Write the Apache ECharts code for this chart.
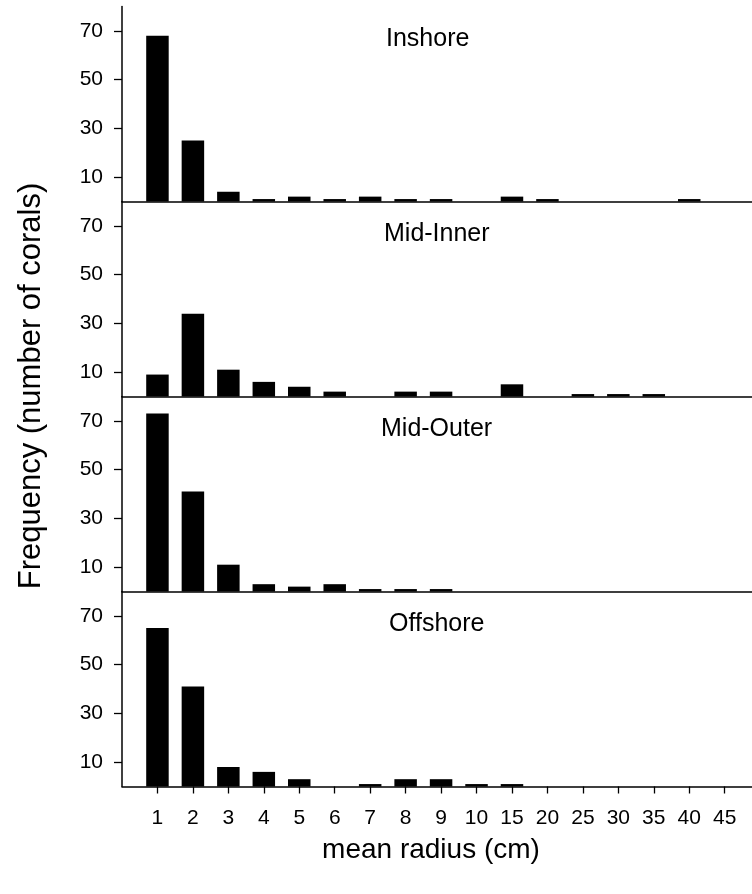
<!DOCTYPE html>
<html>
<head>
<meta charset="utf-8">
<script src="https://cdn.jsdelivr.net/npm/echarts@6/dist/echarts.min.js"></script>
<style>
html,body{margin:0;padding:0;background:#fff;}
#chart{width:752px;height:894px;}
</style>
</head>
<body>
<div id="chart"></div>
<script>
const categories = ['1','2','3','4','5','6','7','8','9','10','15','20','25','30','35','40','45'];
const panelNames = ['Inshore','Mid-Inner','Mid-Outer','Offshore'];
const inshore   = [68,25,4,1,2,1,2,1,1,0,2,1,0,0,0,1,0];
const midInner  = [9,34,11,6,4,2,0,2,2,0,5,0,1,1,1,0,0];
const midOuter  = [73,41,11,3,2,3,1,1,1,0,0,0,0,0,0,0,0];
const offshore  = [65,41,8,6,3,0,1,3,3,1,1,0,0,0,0,0,0];
const yTicks = [10,30,50,70];
const xTitle = 'mean radius (cm)';
const yTitle = 'Frequency (number of corals)';

const panelValues = [inshore, midInner, midOuter, offshore];
const FONT = 'Liberation Sans, Arial, sans-serif';
const GRID_LEFT = 122, GRID_TOP0 = 6.5, PANEL_H = 195;
const titleLeft = [386, 384, 381, 389];

const chart = echarts.init(document.getElementById('chart'), null, {renderer:'canvas'});
const grids = [], xAxes = [], yAxes = [], series = [], titles = [];
const xTickVals = categories.map((c,i)=>i+1);

panelValues.forEach((vals, p) => {
  const isLast = p === panelValues.length - 1;
  grids.push({left: GRID_LEFT, right: 0, top: GRID_TOP0 + PANEL_H*p, height: PANEL_H, containLabel: false});
  xAxes.push({
    type: 'value', gridIndex: p, min: 0, max: 17.77,
    splitLine: {show: false},
    axisLine: {show: true, onZero: false, lineStyle: {color: '#000', width: 1.5}},
    axisTick: {show: isLast, length: 7, lineStyle: {color: '#000', width: 1.3}, customValues: xTickVals},
    axisLabel: {show: isLast, margin: 21, color: '#000', fontSize: 21, fontFamily: FONT,
      customValues: xTickVals, formatter: v => categories[Math.round(v)-1] || ''}
  });
  yAxes.push({
    type: 'value', gridIndex: p, min: 0, max: 80,
    splitLine: {show: false},
    axisLine: {show: true, lineStyle: {color: '#000', width: 1.5}},
    axisTick: {show: true, length: 8, lineStyle: {color: '#000', width: 1.3}, customValues: yTicks},
    axisLabel: {show: true, margin: 19, color: '#000', fontSize: 21, fontFamily: FONT, customValues: yTicks}
  });
  series.push({
    type: 'bar', xAxisIndex: p, yAxisIndex: p, barWidth: 22.5,
    itemStyle: {color: '#000'},
    data: vals.map((v,i)=>[i+1, v]),
    animation: false
  });
  titles.push({
    text: panelNames[p], left: titleLeft[p], top: GRID_TOP0 + PANEL_H*p + 20,
    padding: 0,
    textStyle: {fontSize: 25, fontWeight: 'normal', color: '#000', fontFamily: FONT}
  });
});

chart.setOption({
  animation: false,
  backgroundColor: '#fff',
  title: titles,
  grid: grids,
  xAxis: xAxes,
  yAxis: yAxes,
  series: series,
  graphic: [
    {type: 'text', x: 431, y: 850,
     style: {text: xTitle, x: 0, y: 0, align: 'center', verticalAlign: 'middle', fontSize: 28, fontFamily: FONT, fill: '#000'}},
    {type: 'text', x: 31, y: 386, rotation: Math.PI/2,
     style: {text: yTitle, x: 0, y: 0, align: 'center', verticalAlign: 'middle', fontSize: 31, fontFamily: FONT, fill: '#000'}}
  ]
});
</script>
</body>
</html>
